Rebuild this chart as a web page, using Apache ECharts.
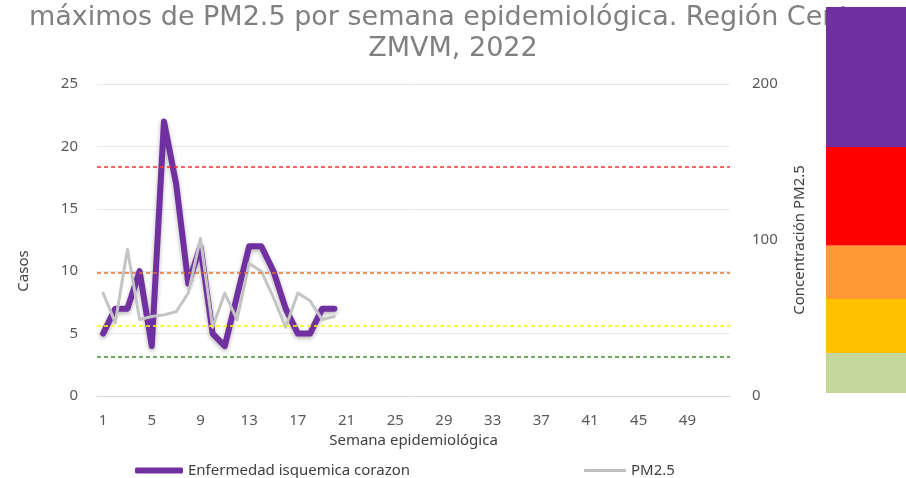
<!DOCTYPE html>
<html>
<head>
<meta charset="utf-8">
<script src="https://cdn.jsdelivr.net/npm/echarts@6/dist/echarts.min.js"></script>
<style>
  html, body { margin: 0; padding: 0; background: #fff; }
  #chart { width: 906px; height: 478px; }
</style>
</head>
<body>
<div id="chart"></div>
<script>
// semanas 1..52
var semanas = [];
for (var i = 1; i <= 52; i++) semanas.push(String(i));

// casos por semana (eje izquierdo)
var casos = [5, 7, 7, 10, 4, 22, 17, 9, 12, 5, 4, 8, 12, 12, 10, 7, 5, 5, 7, 7];
// PM2.5 maximo por semana (eje derecho)
var pm25 = [66, 47, 94, 49, 51, 52, 54, 66, 101, 44, 66, 49, 85, 80, 63, 44, 66, 61, 49, 51];

// umbrales del indice PM2.5
var umbrales = [25, 45, 79, 147];
var umbralColores = ['#3f8f2a', '#ffff00', '#e0702a', '#ff3030'];

// barra de colores a la derecha (de abajo hacia arriba)
var bandas = ['buena', 'aceptable', 'mala', 'muy mala', 'extrema'];
var bandaAltos = [40, 54, 53.6, 98.4, 140];
var bandaColores = ['#c4d79b', '#ffc000', '#ff9933', '#ff0000', '#7030a0'];

var chart = echarts.init(document.getElementById('chart'));

var bandSeries = [];
for (var b = 0; b < bandas.length; b++) {
    bandSeries.push({
        name: bandas[b],
        type: 'bar',
        stack: 'bandas',
        xAxisIndex: 1,
        yAxisIndex: 2,
        barWidth: '100%',
        z: 10,
        silent: true,
        itemStyle: { color: bandaColores[b] },
        data: [bandaAltos[b]]
    });
}

var markData = [];
for (var m = 0; m < umbrales.length; m++) {
    markData.push({
        yAxis: umbrales[m],
        lineStyle: { color: umbralColores[m], type: [4, 3], width: 1.5, opacity: 1 }
    });
}

var option = {
    animation: false,
    title: {
        text: 'máximos de PM2.5 por semana epidemiológica. Región Centro\nZMVM, 2022',
        left: 'center',
        top: -3,
        z: 0,
        textStyle: {
            fontFamily: 'DejaVu Sans',
            fontSize: 27,
            fontWeight: 'normal',
            color: '#808080',
            lineHeight: 31
        }
    },
    legend: [{
        left: 130,
        top: 458,
        itemWidth: 48,
        itemHeight: 6,
        icon: 'roundRect',
        textStyle: { fontFamily: 'Noto Sans', fontSize: 15, color: '#404040' },
        data: ['Enfermedad isquemica corazon']
    }, {
        left: 579,
        top: 458,
        itemWidth: 42,
        itemHeight: 3,
        icon: 'roundRect',
        textStyle: { fontFamily: 'Noto Sans', fontSize: 15, color: '#404040' },
        data: ['PM2.5']
    }],
    grid: [{
        left: 97,
        right: 176,
        top: 84,
        bottom: 82
    }, {
        left: 826,
        right: 0,
        top: 7,
        bottom: 85
    }],
    xAxis: [{
        type: 'category',
        gridIndex: 0,
        data: semanas,
        boundaryGap: true,
        name: 'Semana epidemiológica',
        nameLocation: 'middle',
        nameGap: 37,
        nameTextStyle: { fontFamily: 'Noto Sans', fontSize: 15, color: '#404040' },
        axisLine: { lineStyle: { color: '#d9d9d9' } },
        axisTick: { show: false },
        axisLabel: {
            interval: 3,
            margin: 17,
            fontFamily: 'Noto Sans',
            fontSize: 15,
            color: '#595959'
        }
    }, {
        type: 'category',
        gridIndex: 1,
        data: ['escala'],
        show: false
    }],
    yAxis: [{
        type: 'value',
        gridIndex: 0,
        min: 0,
        max: 25,
        interval: 5,
        name: 'Casos',
        nameLocation: 'middle',
        nameGap: 66,
        nameRotate: 90,
        nameTextStyle: {
            fontFamily: 'Noto Sans', fontSize: 15, color: '#404040',
            padding: [0, 62, 0, 0]
        },
        axisLine: { show: false },
        axisTick: { show: false },
        axisLabel: { margin: 19, fontFamily: 'Noto Sans', fontSize: 15, color: '#595959' },
        splitLine: { lineStyle: { color: '#e8e8e8' } }
    }, {
        type: 'value',
        gridIndex: 0,
        position: 'right',
        min: 0,
        max: 200,
        interval: 100,
        name: 'Concentración PM2.5',
        nameLocation: 'middle',
        nameGap: 62,
        nameRotate: 90,
        nameTextStyle: { fontFamily: 'Noto Sans', fontSize: 15, color: '#404040' },
        axisLine: { show: false },
        axisTick: { show: false },
        axisLabel: { margin: 22, fontFamily: 'Noto Sans', fontSize: 15, color: '#595959' },
        splitLine: { show: false }
    }, {
        type: 'value',
        gridIndex: 1,
        min: 0,
        max: 386,
        show: false
    }],
    series: [{
        name: 'Enfermedad isquemica corazon',
        type: 'line',
        xAxisIndex: 0,
        yAxisIndex: 0,
        data: casos,
        showSymbol: false,
        symbol: 'none',
        color: '#7030a0',
        lineStyle: {
            width: 6,
            color: '#7030a0',
            cap: 'round',
            join: 'round',
            shadowColor: 'rgba(0,0,0,0.3)',
            shadowBlur: 4,
            shadowOffsetY: 2
        }
    }, {
        name: 'PM2.5',
        type: 'line',
        xAxisIndex: 0,
        yAxisIndex: 1,
        data: pm25,
        showSymbol: false,
        symbol: 'none',
        color: '#bfbfbf',
        lineStyle: {
            width: 3,
            color: '#c4c4c4',
            cap: 'round',
            join: 'round'
        },
        markLine: {
            silent: true,
            symbol: 'none',
            label: { show: false },
            data: markData
        }
    }].concat(bandSeries)
};

chart.setOption(option);
</script>
</body>
</html>
